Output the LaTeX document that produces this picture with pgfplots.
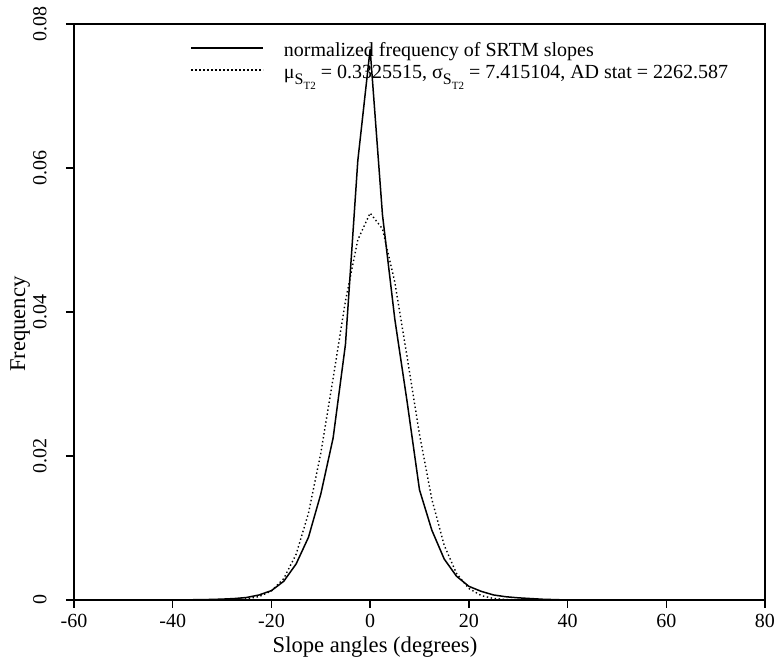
\documentclass[border=0pt]{standalone}
\usepackage{fontspec}
\setmainfont{Liberation Serif}
\usepackage{pgfplots}
\pgfplotsset{compat=1.18}

\begin{document}
\begin{tikzpicture}
\useasboundingbox (-37pt,-33.5pt) rectangle (351.5pt,300pt);
\begin{axis}[
  scale only axis, width=345.5pt, height=288pt,
  at={(0pt,0pt)}, anchor=south west,
  xmin=-60, xmax=80, ymin=0, ymax=0.08,
  scaled y ticks=false,
  xtick={-60,-40,...,80}, xticklabels={-60,-40,-20,0,20,40,60,80},
  ytick={0,0.02,0.04,0.06,0.08}, yticklabels={0,0.02,0.04,0.06,0.08},
  tick align=outside, major tick length=4pt,
  xtick pos=left, ytick pos=left,
  axis line style={line width=0.75pt},
  every tick/.style={black, line width=0.75pt},
  tick label style={font=\fontsize{10}{12}\selectfont},
  xticklabel style={anchor=north, inner sep=0pt},
  xticklabel shift=3pt,
  yticklabel style={rotate=90, anchor=south, inner sep=0pt},
  yticklabel shift=9.5pt,
  label style={font=\fontsize{11.3}{13}\selectfont},
  xlabel={Slope angles (degrees)},
  xlabel style={at={(axis description cs:0.4356,-0.0903)}, anchor=base},
  ylabel={Frequency},
  ylabel style={at={(axis description cs:-0.0709,0.479)}, anchor=base, rotate=0},
  legend cell align=left,
  legend style={at={(axis description cs:0.168,0.968)}, anchor=north west,
    draw=none, fill=none, inner sep=0pt, row sep=0pt, column sep=10pt,
    font=\fontsize{10}{12}\selectfont,
    nodes={inner sep=0pt, text height=7pt, text depth=4pt}},
  legend image code/.code={\draw[#1] (0pt,3pt) -- (36pt,3pt);},
]
% empirical slope frequencies (2.5 degree bins)
\addplot[black, line width=0.75pt, line join=round] coordinates {
(-40,0) (-37.5,0.00002) (-35,0.00004) (-32.5,0.00007) (-30,0.00012)
(-27.5,0.0002) (-25,0.00035) (-22.5,0.0007) (-20,0.0013) (-17.5,0.0026)
(-15,0.005) (-12.5,0.0087) (-10,0.0147) (-7.5,0.0225) (-5,0.0355)
(-2.5,0.061) (0,0.0765) (2.5,0.0535) (5,0.039) (7.5,0.0275) (10,0.0153)
(12.5,0.0097) (15,0.0057) (17.5,0.0033) (20,0.0019) (22.5,0.0012)
(25,0.0007) (27.5,0.00045) (30,0.0003) (32.5,0.0002) (35,0.0001)
(37.5,0.00005) (40,0)};
\addlegendentry{normalized frequency of SRTM slopes}
% fitted normal
\addplot[black, line width=0.7pt, line join=round, dash pattern=on 0.7pt off 1.3pt] coordinates {
(-40,0) (-37.5,0) (-35,0.0000006) (-32.5,0.000003) (-30,0.0000125)
(-27.5,0.000047) (-25,0.000157) (-22.5,0.00047) (-20,0.001254)
(-17.5,0.002985) (-15,0.006343) (-12.5,0.012035) (-10,0.020377)
(-7.5,0.030797) (-5,0.041542) (-2.5,0.050016) (0,0.053747)
(2.5,0.051551) (5,0.044133) (7.5,0.033723) (10,0.022997) (12.5,0.014)
(15,0.007607) (17.5,0.003689) (20,0.001597) (22.5,0.000617)
(25,0.000213) (27.5,0.000065) (30,0.000018) (32.5,0.0000044)
(35,0.000001) (37.5,0) (40,0)};
\addlegendentry{μ\raisebox{-3pt}{\fontsize{8}{9}\selectfont S\raisebox{-2.3pt}{\fontsize{5.5}{6}\selectfont T2}} = 0.3325515, σ\raisebox{-3pt}{\fontsize{8}{9}\selectfont S\raisebox{-2.3pt}{\fontsize{5.5}{6}\selectfont T2}} = 7.415104, AD stat = 2262.587}
\end{axis}
\end{tikzpicture}
\end{document}
